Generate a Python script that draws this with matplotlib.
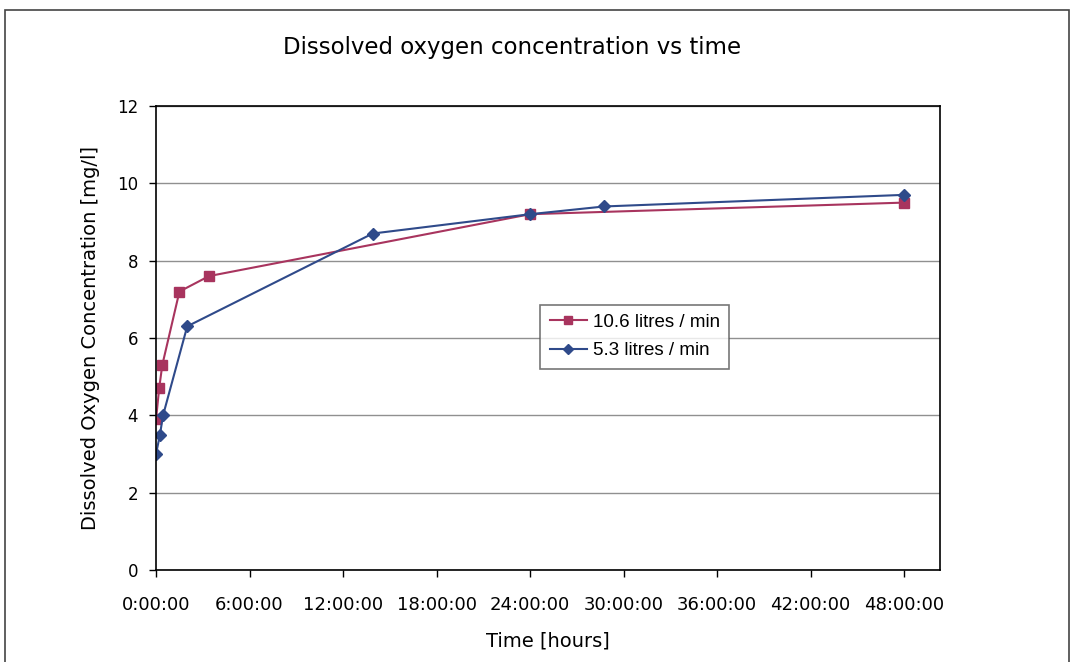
import numpy as np
import matplotlib.pyplot as plt
from matplotlib.ticker import FuncFormatter, MultipleLocator
from matplotlib.patches import Rectangle

# time in hours, dissolved oxygen in mg/l
t_high = [0.0, 0.2, 0.4, 1.5, 3.4, 24.0, 48.0]
do_high = [3.9, 4.7, 5.3, 7.2, 7.6, 9.2, 9.5]

t_low = [0.0, 0.25, 0.45, 2.0, 13.9, 24.0, 28.75, 48.0]
do_low = [3.0, 3.5, 4.0, 6.3, 8.7, 9.2, 9.4, 9.7]

labels = ["10.6 litres / min", "5.3 litres / min"]
x_ticks = [0, 6, 12, 18, 24, 30, 36, 42, 48]

fig = plt.figure(figsize=(10.74, 6.62), dpi=100)
ax = fig.add_axes([0.1453, 0.139, 0.7299, 0.701])

ax.plot(t_high, do_high, color='#A8345E', marker='s', markersize=7, lw=1.5, label=labels[0])
ax.plot(t_low, do_low, color='#2F4A8A', marker='D', markersize=6, lw=1.5, label=labels[1])

ax.set_xlim(0, 50.3)
ax.set_ylim(0, 12)
ax.set_xticks(x_ticks)
ax.xaxis.set_major_formatter(FuncFormatter(lambda v, p: "%d:00:00" % int(v)))
ax.yaxis.set_major_locator(MultipleLocator(2))
ax.grid(axis='y', color='#909090', lw=1)
ax.set_axisbelow(True)
ax.tick_params(axis='x', direction='out', length=5, width=1, labelsize=13, pad=14)
ax.tick_params(axis='y', direction='out', length=5, width=1, labelsize=12, pad=8)
for s in ax.spines.values():
    s.set_color('black')
    s.set_linewidth(1.2)

ax.set_xlabel("Time [hours]", fontsize=14, labelpad=12)
ax.set_ylabel("Dissolved Oxygen Concentration [mg/l]", fontsize=14, labelpad=12)
fig.text(0.477, 0.928, "Dissolved oxygen concentration vs time", ha='center', va='center',
         fontsize=16.5)

leg = ax.legend(loc='upper left', bbox_to_anchor=(0.49, 0.572), fontsize=13.5, frameon=True,
                fancybox=False, edgecolor='#555555', handlelength=2.0, borderpad=0.5,
                labelspacing=0.6, handletextpad=0.3, borderaxespad=0, markerscale=0.8)
leg.get_frame().set_linewidth(1.2)
for txt in leg.get_texts():
    txt.set_family(['Liberation Sans', 'DejaVu Sans'])

fig.patches.append(Rectangle((0.005, -0.02), 0.99, 1.005, transform=fig.transFigure,
                             fill=False, edgecolor='#444444', lw=1.2))

fig.savefig("out.png", dpi=100)
